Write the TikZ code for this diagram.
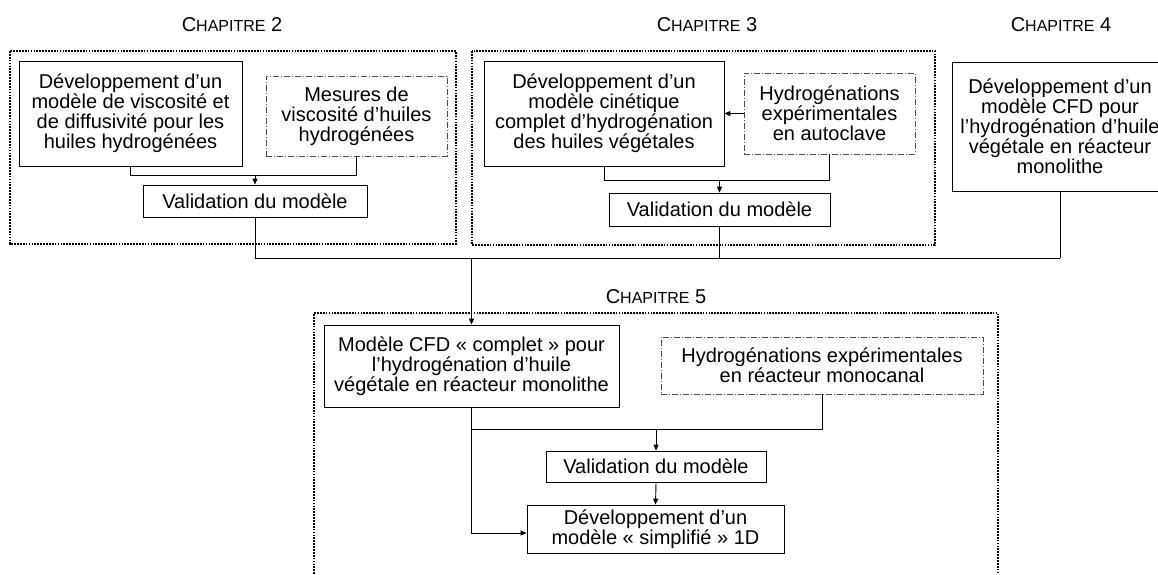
\documentclass[tikz,border=0pt]{standalone}
\usepackage{fontspec}
\setmainfont{Liberation Sans}
\usetikzlibrary{arrows.meta}
\tikzset{
  txt/.style={font=\fontsize{20}{20}\selectfont, align=center, inner sep=0pt},
  solidbox/.style={txt, draw, line width=0.8pt},
  dashbox/.style={txt, draw=black!70, line width=0.7pt, dash pattern=on 6pt off 2pt on 1pt off 2pt},
  frame/.style={line width=2pt, dash pattern=on 1.7pt off 1.2pt},
  conn/.style={line width=0.9pt},
  bus/.style={line width=1.8pt},
  arr/.style={-{Triangle[length=6pt,width=5pt]}},
  chap/.style={inner sep=0pt, font=\fontsize{20}{20}\selectfont}
}
\newcommand{\chapname}[1]{C{\fontsize{16}{16}\selectfont HAPITRE} #1}
\begin{document}
\begin{tikzpicture}[x=1pt, y=-1pt]
\useasboundingbox (0,0) rectangle (1158,574);
\clip (0,0) rectangle (1158,574);
% frames
\draw[frame] (10,51) rectangle (456,244);
\draw[frame] (472,51) rectangle (935,245);
\draw[frame] (314,600) -- (314,313) -- (998,313) -- (998,600);
% titles
\node[chap] (t2) at (232,25) {\chapname{2}};
\node[chap] (t3) at (707,25) {\chapname{3}};
\node[chap] (t4) at (1061,25) {\chapname{4}};
\node[chap] (t5) at (656,297) {\chapname{5}};
% chapter 2
\node[solidbox, minimum width=223pt, minimum height=105pt] (A) at (130.5,113.5)
  {Développement d’un\\modèle de viscosité et\\de diffusivité pour les\\huiles hydrogénées};
\node[dashbox, minimum width=181pt, minimum height=80pt] (B) at (356.5,116)
  {Mesures de\\viscosité d’huiles\\hydrogénées};
\node[solidbox, minimum width=224pt, minimum height=32pt] (V2) at (255,201) {Validation du modèle};
% chapter 3
\node[solidbox, minimum width=240pt, minimum height=105pt] (C) at (604,113.5)
  {Développement d’un\\modèle cinétique\\complet d’hydrogénation\\des huiles végétales};
\node[dashbox, minimum width=171pt, minimum height=81pt] (D) at (829.5,113.5)
  {Hydrogénations\\expérimentales\\en autoclave};
\node[solidbox, minimum width=221pt, minimum height=33pt] (V3) at (719.5,209.5) {Validation du modèle};
% chapter 4
\node[solidbox, minimum width=216pt, minimum height=129pt] (E) at (1060,126.5)
  {Développement d’un\\modèle CFD pour\\l’hydrogénation d’huile\\végétale en réacteur\\monolithe};
% chapter 5
\node[solidbox, minimum width=295pt, minimum height=82pt] (F) at (471.5,366)
  {Modèle CFD « complet » pour\\l’hydrogénation d’huile\\végétale en réacteur monolithe};
\node[dashbox, minimum width=322pt, minimum height=57pt] (G) at (822,365.5)
  {Hydrogénations expérimentales\\en réacteur monocanal};
\node[solidbox, minimum width=220pt, minimum height=31pt] (V5) at (656,466.5) {Validation du modèle};
\node[solidbox, minimum width=257pt, minimum height=48pt] (H) at (655.5,529)
  {Développement d’un\\modèle « simplifié » 1D};
% connectors chapter 2
\coordinate (j2) at (V2.north |- 0,175);
\draw[conn] (A.south) -- (A.south |- j2) -| (B.south);
\draw[conn, arr] (j2) -- (V2.north);
% chapter 3
\coordinate (j3) at (V3.north |- 0,180);
\draw[conn] (C.south) -- (C.south |- j3) -| (D.south);
\draw[conn, arr] (j3) -- (V3.north);
\draw[conn, arr] (D.west) -- (C.east |- D.west);
% bus
\coordinate (bl) at (V2.south |- 0,258);
\coordinate (br) at (E.south |- 0,258);
\coordinate (bm) at (F.north |- 0,258);
\draw[conn] (V2.south) -- (bl);
\draw[conn] (V3.south) -- (V3.south |- bl);
\draw[conn] (E.south) -- (br);
\draw[conn] (bl) -- (br);
\draw[bus, arr] (bm) -- (F.north);
% chapter 5
\coordinate (j5) at (V5.north |- 0,429);
\coordinate (k5) at (F.south |- 0,533);
\draw[conn] (F.south) -- (F.south |- j5) -| (G.south);
\draw[conn, arr] (j5) -- (V5.north);
\draw[conn, arr] (V5.south) -- (H.north);
\draw[conn, arr] (F.south |- j5) -- (k5) -- (H.west |- k5);
\end{tikzpicture}
\end{document}
